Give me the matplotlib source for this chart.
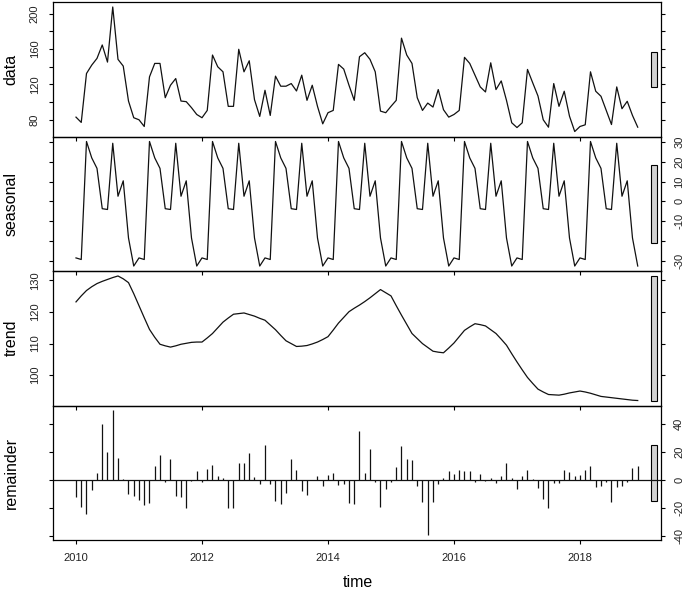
import numpy as np
import matplotlib
matplotlib.use("Agg")
import matplotlib.pyplot as plt
from matplotlib.patches import Rectangle

plt.rcParams["font.family"] = ["Liberation Sans", "DejaVu Sans"]

# monthly series, Jan 2010 - Dec 2018
start_year = 2010

data = [
    83, 77, 132.4, 141.9, 149.5, 164.7, 145.3, 207.7, 148.4, 140.8, 101.2, 82.3,
    80, 72.4, 128.6, 143.8, 143.8, 105, 119.1, 126.7, 101.2, 100.5, 93.7, 86,
    82.3, 90.6, 153.3, 140, 134.3, 95.2, 95.2, 159.8, 134.3, 146.8, 102.8, 83.8,
    113.4, 84.9, 129.4, 118, 118, 121, 112.6, 130.5, 102, 119.1, 95.2, 75.4,
    88, 90.6, 142.7, 137.4, 119.1, 102, 151.4, 155.9, 148.4, 134.3, 89.8, 88,
    95.2, 102, 172.4, 153.3, 143.8, 105, 90.6, 98.9, 94.4, 114.2, 91.4, 83,
    86, 90.6, 150.7, 143.8, 130.5, 117.2, 111.5, 144.5, 114.2, 124, 102, 76.6,
    71.2, 76.6, 137, 121.8, 106.9, 80, 71.6, 121, 95.2, 112.3, 84.1, 66.7,
    72.4, 74.3, 134.3, 112.3, 106.6, 90.6, 74.6, 117.2, 92.5, 100.9, 84.9, 71.6,
]

# periodic seasonal component, Jan..Dec
seasonal_pattern = [-28.6, -29.4, 30.3, 22.0, 16.7, -3.7, -4.1, 29.4, 2.6, 10.4, -18.5, -32.7]

trend = [
    123.2, 125.1, 126.8, 128.0, 129.0, 129.7, 130.3, 130.9, 131.4, 130.5, 129.3, 125.8,
    122.0, 118.2, 114.5, 112.0, 109.8, 109.3, 108.9, 109.3, 109.8, 110.1, 110.4, 110.5,
    110.5, 111.8, 113.2, 115.0, 116.8, 118.1, 119.3, 119.5, 119.7, 119.2, 118.7, 118.0,
    117.4, 115.9, 114.4, 112.6, 110.9, 110.0, 109.1, 109.2, 109.4, 109.9, 110.5, 111.3,
    112.2, 114.3, 116.5, 118.3, 120.1, 121.2, 122.2, 123.3, 124.5, 125.8, 127.1, 126.1,
    125.1, 122.0, 119.0, 116.1, 113.2, 111.6, 110.0, 108.8, 107.6, 107.3, 107.1, 108.6,
    110.2, 112.2, 114.2, 115.3, 116.3, 116.0, 115.6, 114.4, 113.2, 111.4, 109.5, 106.8,
    104.2, 101.7, 99.3, 97.4, 95.6, 94.7, 93.9, 93.8, 93.7, 94.0, 94.4, 94.7,
    95.0, 94.7, 94.3, 93.8, 93.3, 93.1, 92.9, 92.7, 92.5, 92.3, 92.1, 92.0,
]

remainder = [
    -12.4, -19.5, -24.2, -7.1, 4.7, 39.9, 19.6, 49.3, 15.7, 0.7, -10, -11.6,
    -14, -17.6, -16.4, 9.7, 18, -1.7, 14.9, -11.2, -12.4, -20, -0.5, 6.6,
    -1.4, 8, 10.9, 3.1, 1.4, -20, -20, 12.1, 11.9, 18.9, 2.4, -2.8,
    24.9, -2.8, -14.7, -17.1, -9.5, 14.9, 7.1, -7.6, -10.7, 0.3, 2.6, -4.3,
    3.8, 5.2, -3.3, -2.8, -16.1, -17.1, 34.4, 4.7, 22, -1.6, -19.5, -6.4,
    -1.6, 9.5, 23.8, 14.9, 14.2, -4, -15.7, -39.1, -15.7, -2.8, 1.4, 6.2,
    4.3, 7.4, 6.6, 6.2, -1.6, 4.3, -0.9, 1.4, -2.1, 3.1, 11.9, 1.4,
    -6.4, 3.1, 7.4, 0.7, -5.7, -13.5, -20, -2.4, -2.1, 7.4, 5.5, 2.8,
    3.6, 7.4, 10.2, -5.2, -4, -1.6, -15.7, -4.7, -4, -1.6, 8.5, 10.2,
]

panel_labels = ["data", "seasonal", "trend", "remainder"]
x_ticks = [2010, 2012, 2014, 2016, 2018]
y_ticks = [
    [80, 100, 120, 140, 160, 180, 200],
    [-30, -20, -10, 0, 10, 20, 30],
    [100, 110, 120, 130],
    [-40, -20, 0, 20, 40],
]
y_tick_labels = [
    ["80", "", "120", "", "160", "", "200"],
    ["-30", "", "-10", "0", "10", "20", "30"],
    ["100", "110", "120", "130"],
    ["-40", "-20", "0", "20", "40"],
]

time = start_year + np.arange(len(data)) / 12
seasonal = np.tile(seasonal_pattern, len(data) // 12)
components = [np.array(data), seasonal, np.array(trend), np.array(remainder)]

W, H = 685, 589
left_px, right_px = 53, 661
panel_h = 134.5
top_px = 2
line_col = "#111111"

# all range bars share the smallest component range
bar_len = min(c.max() - c.min() for c in components)

fig = plt.figure(figsize=(W / 100, H / 100), dpi=100)

for i, (vals, label) in enumerate(zip(components, panel_labels)):
    top = top_px + i * panel_h
    ax = fig.add_axes([left_px / W, 1 - (top + panel_h) / H,
                       (right_px - left_px) / W, panel_h / H])
    ax.set_facecolor("none")

    if label == "remainder":
        ax.vlines(time, 0, vals, color=line_col, lw=0.9)
        ax.axhline(0, color=line_col, lw=0.9)
    else:
        ax.plot(time, vals, color=line_col, lw=0.9)

    lo, hi = vals.min(), vals.max()
    pad = 0.04 * (hi - lo)
    ax.set_ylim(lo - pad, hi + pad)
    ax.set_xlim(2009.635, 2019.286)

    mid = (lo + hi) / 2
    ax.add_patch(Rectangle((2019.127, mid - bar_len / 2), 0.095, bar_len,
                           facecolor="#d3d3d3", edgecolor="black", lw=0.8))

    for sp in ax.spines.values():
        sp.set_linewidth(0.9)
        sp.set_color("black")

    right_side = i % 2 == 1
    ax.set_xticks(x_ticks)
    ax.set_yticks(y_ticks[i])
    ax.set_yticklabels(y_tick_labels[i])
    ax.tick_params(axis="both", direction="out", length=3, width=0.8,
                   labelsize=8, pad=6.5, colors="black", labelcolor="#222222")
    ax.tick_params(axis="y", left=True, right=True, labelleft=not right_side,
                   labelright=right_side, labelrotation=90)
    ax.tick_params(axis="x", bottom=True, top=False, labelbottom=(i == 3))
    for lbl in ax.get_yticklabels():
        lbl.set_va("center")

    fig.text(11 / W, 1 - (top + panel_h / 2) / H, label, rotation=90,
             ha="center", va="center", fontsize=11.5)

fig.text(357.5 / W, 1 - 587 / H, "time", ha="center", va="baseline", fontsize=11.5)

fig.savefig("out.png", dpi=100)
